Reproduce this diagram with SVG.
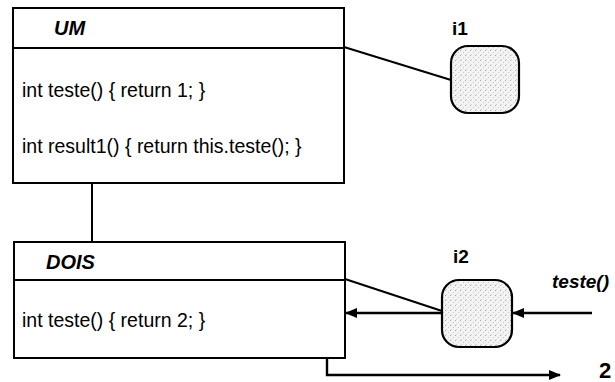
<svg xmlns="http://www.w3.org/2000/svg" width="615" height="382" viewBox="0 0 615 382">
  <style>
    .box { fill: #ffffff; stroke: #000000; stroke-width: 2; }
    .inst { fill: url(#stipple); stroke: #000000; stroke-width: 2.2; }
    .line { fill: none; stroke: #000000; stroke-width: 2; }
    .arrow { fill: none; stroke: #000000; stroke-width: 2.4; }
    .title { font-family: "Liberation Sans", Arial, sans-serif; font-size: 20px; font-weight: bold; font-style: italic; fill: #000000; }
    .member { font-family: "Liberation Sans", Arial, sans-serif; font-size: 19.5px; fill: #000000; }
    .label { font-family: "Liberation Sans", Arial, sans-serif; font-size: 19px; font-weight: bold; fill: #000000; }
  </style>
  <defs>
    <pattern id="stipple" width="5" height="5" patternUnits="userSpaceOnUse">
      <rect width="5" height="5" fill="#f3f3f3"/>
      <rect x="0" y="0" width="1" height="1" fill="#a8a8a8"/>
      <rect x="3" y="2" width="1" height="1" fill="#c8c8c8"/>
      <rect x="1" y="4" width="1" height="1" fill="#d0d0d0"/>
    </pattern>
    <marker id="head" viewBox="0 0 12 10" refX="11" refY="5" markerWidth="12" markerHeight="10" markerUnits="userSpaceOnUse" orient="auto">
      <path d="M0,0 L12,5 L0,10 Z" fill="#000000"/>
    </marker>
  </defs>

  <!-- Class UM -->
  <g id="class-um">
    <rect class="box" x="13" y="8" width="331" height="175"/>
    <line class="line" x1="13" y1="48" x2="344" y2="48"/>
    <text class="title" x="54" y="35">UM</text>
    <text class="member" x="22" y="97">int teste() { return 1; }</text>
    <text class="member" x="22" y="153">int result1() { return this.teste(); }</text>
  </g>

  <!-- Class DOIS -->
  <g id="class-dois">
    <rect class="box" x="14" y="242" width="331" height="116"/>
    <line class="line" x1="14" y1="280" x2="345" y2="280"/>
    <text class="title" x="46" y="269">DOIS</text>
    <text class="member" x="22" y="327">int teste() { return 2; }</text>
  </g>

  <!-- Instance i1 -->
  <g id="instance-i1">
    <rect class="inst" x="451" y="46" width="68" height="67" rx="17" ry="17"/>
    <text class="label" x="452" y="35">i1</text>
  </g>

  <!-- Instance i2 -->
  <g id="instance-i2">
    <rect class="inst" x="442" y="280" width="70" height="67" rx="17" ry="17"/>
    <text class="label" x="453" y="263">i2</text>
  </g>

  <!-- Message labels -->
  <g id="msg-teste">
    <text class="title" x="552" y="288" style="font-size:19px">teste()</text>
  </g>
  <g id="result-2">
    <text class="label" x="599" y="378" style="font-size:22px">2</text>
  </g>

  <!-- Connectors -->
  <g id="connectors">
    <!-- generalization UM - DOIS -->
    <line class="line" x1="92" y1="183" x2="92" y2="242"/>
    <!-- instance-of links -->
    <line class="line" x1="344" y1="47" x2="451" y2="80"/>
    <line class="line" x1="345" y1="279" x2="442" y2="311"/>
    <!-- incoming call teste() to i2 -->
    <line class="arrow" x1="592" y1="313" x2="513" y2="313" marker-end="url(#head)"/>
    <!-- dispatch from i2 to DOIS.teste -->
    <line class="arrow" x1="442" y1="313" x2="346" y2="313" marker-end="url(#head)"/>
    <!-- returned value -->
    <polyline class="arrow" points="327,358 327,375 560,375" marker-end="url(#head)"/>
  </g>
</svg>
